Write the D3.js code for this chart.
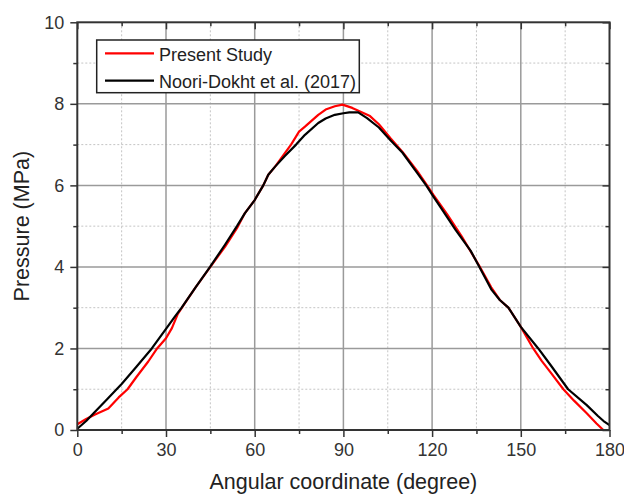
<!DOCTYPE html>
<html>
<head>
<meta charset="utf-8">
<script src="https://cdn.jsdelivr.net/npm/d3@7"></script>
<style>
  html, body { margin: 0; padding: 0; background: #fff; }
  svg text { font-family: "Liberation Sans", Arial, sans-serif; }
</style>
</head>
<body>
<svg id="chart" width="624" height="496"></svg>
<script>
// Pressure distribution along the angular coordinate
const presentAngle = [0, 3, 6, 10.5, 14, 17, 20, 24, 27, 30, 32, 34, 36, 40, 45, 50, 54, 56.7, 60, 62.9, 64.6, 66.9, 70.2, 72.3, 75, 77, 81.5, 84, 87.1, 89.7, 93, 96, 99, 102, 106, 110, 115, 118, 120.5, 125, 130, 136, 140, 142.9, 145.8, 150, 154.2, 157, 160, 164.4, 168, 172.3, 175.6, 177.9];
const presentPressure = [0.14, 0.27, 0.38, 0.53, 0.8, 1.0, 1.3, 1.68, 2.0, 2.25, 2.5, 2.85, 3.07, 3.5, 4.0, 4.5, 4.95, 5.32, 5.64, 6.0, 6.26, 6.46, 6.79, 7.0, 7.32, 7.44, 7.73, 7.86, 7.94, 7.98, 7.9, 7.8, 7.7, 7.5, 7.15, 6.82, 6.35, 6.03, 5.76, 5.3, 4.75, 4.02, 3.5, 3.19, 3.0, 2.53, 2.0, 1.7, 1.42, 1.0, 0.72, 0.41, 0.16, 0.0];
const nooriAngle = [0, 3, 6, 10, 13.3, 15, 20, 25.2, 30, 33, 35.3, 40, 44.9, 50, 54, 56.7, 60, 62.9, 64.6, 66.9, 70.2, 74, 77, 81.5, 84, 87.1, 90, 92, 95, 98, 102, 106, 110, 115, 118, 120.5, 123, 128, 133, 136, 140, 142.9, 145.8, 150, 155.9, 160, 166, 172.3, 176, 178, 180];
const nooriPressure = [0.03, 0.22, 0.45, 0.75, 1.0, 1.13, 1.55, 2.0, 2.48, 2.78, 3.0, 3.5, 4.0, 4.55, 5.0, 5.32, 5.64, 6.0, 6.26, 6.46, 6.72, 7.0, 7.24, 7.53, 7.64, 7.73, 7.77, 7.79, 7.79, 7.65, 7.42, 7.1, 6.8, 6.3, 6.0, 5.72, 5.45, 4.9, 4.4, 4.0, 3.45, 3.19, 3.0, 2.53, 2.0, 1.6, 1.0, 0.61, 0.35, 0.22, 0.12];
const xTicks = [0, 30, 60, 90, 120, 150, 180];
const xMinorTicks = [15, 45, 75, 105, 135, 165];
const yTicks = [0, 2, 4, 6, 8, 10];
const yMinorTicks = [1, 3, 5, 7, 9];
const seriesNames = ["Present Study", "Noori-Dokht et al. (2017)"];
const seriesColors = ["#ff0000", "#000000"];

const svg = d3.select("#chart");
const plotLeft = 77.3, plotRight = 609.5, plotTop = 22.3, plotBottom = 430;
const x = d3.scaleLinear().domain([0, 180]).range([plotLeft, plotRight]);
const y = d3.scaleLinear().domain([0, 10]).range([plotBottom, plotTop]);
const axisColor = "#333";

// grid
const grid = svg.append("g");
grid.selectAll(".gxm").data(xMinorTicks).join("line")
  .attr("x1", d => x(d)).attr("x2", d => x(d)).attr("y1", plotTop).attr("y2", plotBottom)
  .attr("stroke", "#c4c4c4").attr("stroke-width", 1).attr("stroke-dasharray", "2,2");
grid.selectAll(".gym").data(yMinorTicks).join("line")
  .attr("y1", d => y(d)).attr("y2", d => y(d)).attr("x1", plotLeft).attr("x2", plotRight)
  .attr("stroke", "#c4c4c4").attr("stroke-width", 1).attr("stroke-dasharray", "2,2");
grid.selectAll(".gx").data(xTicks.slice(1, -1)).join("line")
  .attr("x1", d => x(d)).attr("x2", d => x(d)).attr("y1", plotTop).attr("y2", plotBottom)
  .attr("stroke", "#9a9a9a").attr("stroke-width", 1.5);
grid.selectAll(".gy").data(yTicks.slice(1, -1)).join("line")
  .attr("y1", d => y(d)).attr("y2", d => y(d)).attr("x1", plotLeft).attr("x2", plotRight)
  .attr("stroke", "#9a9a9a").attr("stroke-width", 1.5);

// curves
const makeLine = (xs) => d3.line().x((d, i) => x(xs[i])).y(d => y(d));
const curves = [[presentAngle, presentPressure], [nooriAngle, nooriPressure]];
curves.forEach(([xs, ys], k) => {
  svg.append("path").datum(ys)
    .attr("d", makeLine(xs))
    .attr("fill", "none")
    .attr("stroke", seriesColors[k])
    .attr("stroke-width", 2.2)
    .attr("stroke-linejoin", "round");
});

// axes
function styleAxis(g) {
  g.select(".domain").remove();
  g.selectAll("line").attr("stroke", axisColor).attr("stroke-width", 1.5);
  g.selectAll("text").attr("fill", "#333").style("font-size", "18px");
}
svg.append("g").attr("transform", `translate(0,${plotBottom})`)
  .call(d3.axisBottom(x).tickValues(xTicks).tickSize(7).tickPadding(6).tickFormat(d3.format("d")))
  .call(styleAxis);
svg.append("g").attr("transform", `translate(0,${plotBottom})`)
  .call(d3.axisBottom(x).tickValues(xMinorTicks).tickSize(4).tickFormat(""))
  .call(styleAxis);
svg.append("g").attr("transform", `translate(${plotLeft},0)`)
  .call(d3.axisLeft(y).tickValues(yTicks).tickSize(7).tickPadding(6).tickFormat(d3.format("d")))
  .call(styleAxis);
svg.append("g").attr("transform", `translate(${plotLeft},0)`)
  .call(d3.axisLeft(y).tickValues(yMinorTicks).tickSize(4).tickFormat(""))
  .call(styleAxis);
// mirrored inward ticks on top and right
svg.append("g").attr("transform", `translate(0,${plotTop})`)
  .call(d3.axisTop(x).tickValues(xTicks).tickSize(-7).tickFormat(""))
  .call(styleAxis);
svg.append("g").attr("transform", `translate(0,${plotTop})`)
  .call(d3.axisTop(x).tickValues(xMinorTicks).tickSize(-4).tickFormat(""))
  .call(styleAxis);
svg.append("g").attr("transform", `translate(${plotRight},0)`)
  .call(d3.axisRight(y).tickValues(yTicks).tickSize(-7).tickFormat(""))
  .call(styleAxis);
svg.append("g").attr("transform", `translate(${plotRight},0)`)
  .call(d3.axisRight(y).tickValues(yMinorTicks).tickSize(-4).tickFormat(""))
  .call(styleAxis);

// frame
svg.append("rect").attr("x", plotLeft).attr("y", plotTop)
  .attr("width", plotRight - plotLeft).attr("height", plotBottom - plotTop)
  .attr("fill", "none").attr("stroke", axisColor).attr("stroke-width", 2);

// axis titles
svg.append("text").attr("x", (plotLeft + plotRight) / 2).attr("y", 489)
  .attr("text-anchor", "middle").attr("fill", "#222").style("font-size", "21.5px")
  .text("Angular coordinate (degree)");
svg.append("text").attr("transform", `translate(29,${(plotTop + plotBottom) / 2}) rotate(-90)`)
  .attr("text-anchor", "middle").attr("fill", "#222").style("font-size", "21.5px")
  .text("Pressure (MPa)");

// legend
const legend = svg.append("g");
legend.append("rect").attr("x", 96.7).attr("y", 40).attr("width", 262.6).attr("height", 52.7)
  .attr("fill", "#fff").attr("stroke", "#222").attr("stroke-width", 1.5);
seriesNames.forEach((name, i) => {
  const ly = 53.3 + i * 27.4;
  legend.append("line").attr("x1", 105).attr("x2", 154).attr("y1", ly).attr("y2", ly)
    .attr("stroke", seriesColors[i]).attr("stroke-width", 2.2);
  legend.append("text").attr("x", 159).attr("y", ly + 7.5)
    .attr("fill", "#222").style("font-size", "18px").text(name);
});
</script>
</body>
</html>
